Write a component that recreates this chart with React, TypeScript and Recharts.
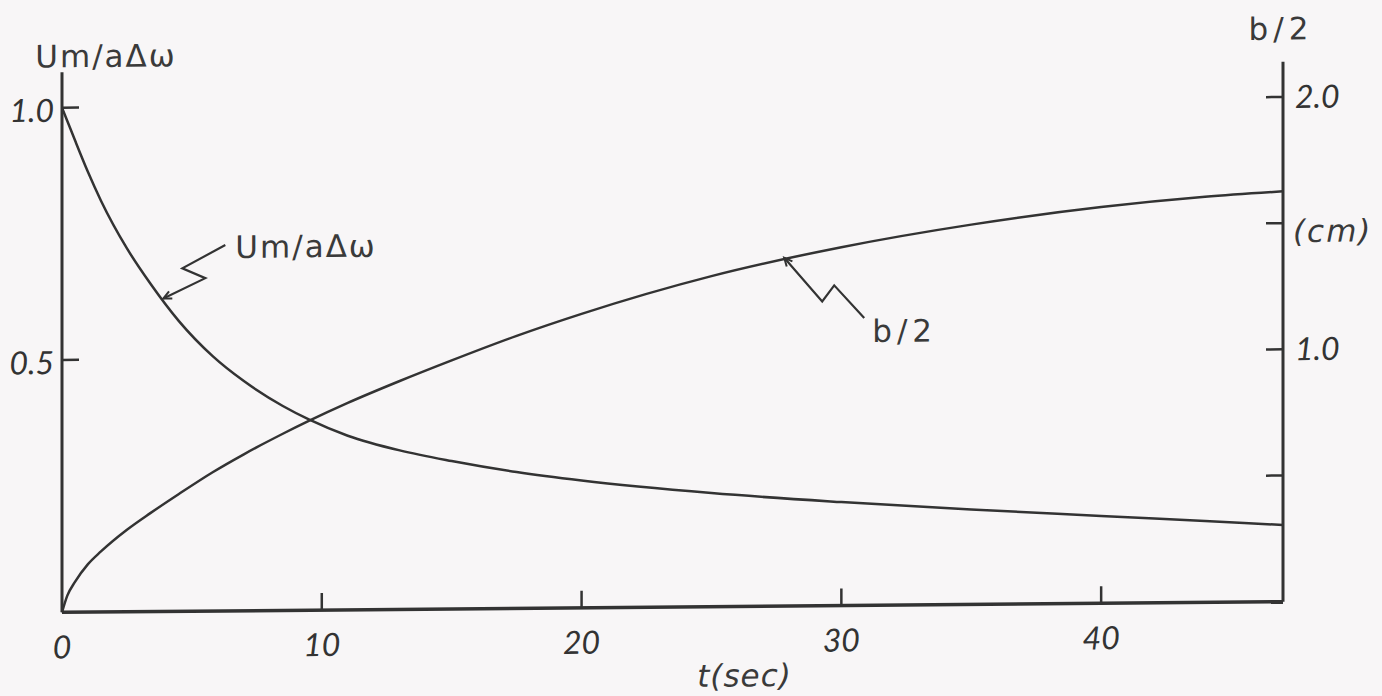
import React from 'react';
import { LineChart, Line, XAxis, YAxis, ReferenceDot } from 'recharts';

// time (s)
const tValues = [0, 0.2, 0.5, 1, 1.5, 2.5, 3.4, 4.5, 5.8, 7, 8.5, 9.5, 11, 13, 15, 17.5, 20, 25, 30, 35, 40, 44, 47];
// Um / aΔω (left axis)
const umValues = [1.0, 0.974, 0.935, 0.872, 0.815, 0.72, 0.65, 0.575, 0.505, 0.455, 0.405, 0.378, 0.345, 0.315, 0.293, 0.27, 0.252, 0.225, 0.205, 0.188, 0.173, 0.161, 0.152];
// b/2 in cm (right axis)
const bValues = [0, 0.065, 0.12, 0.19, 0.24, 0.325, 0.39, 0.465, 0.55, 0.62, 0.7, 0.75, 0.82, 0.905, 0.985, 1.08, 1.165, 1.31, 1.42, 1.505, 1.57, 1.607, 1.626];

const xTicks = [0, 10, 20, 30, 40];
const umTicks = [0.5, 1.0];
const bTicks = [0.5, 1.0, 1.5, 2.0];
const bTickLabels: Record<string, string> = { '0.5': '', '1': '1.0', '1.5': '(cm)', '2': '2.0' };

// arrow anchors for the curve captions
const umCaption = { t: 3.9, v: 0.62, text: 'Um/aΔω' };
const bCaption = { t: 27.8, v: 1.38, text: 'b/2' };

const data = tValues.map((t, i) => ({ t, um: umValues[i], b: bValues[i] }));

const INK = '#333333';
const BG = '#f8f6f7';

// numerals: narrow slanted lettering
const numFont = {
  fontFamily: 'Lato, "DejaVu Sans", sans-serif',
  fontStyle: 'italic' as const,
  fontWeight: 400,
  fontSize: 32,
  fill: INK,
};
// words: wide monoline lettering
const wordFont = {
  fontFamily: '"DejaVu Sans", sans-serif',
  fontStyle: 'normal' as const,
  fontWeight: 400,
  fontSize: 31,
  letterSpacing: 2,
  fill: '#3a3a3a',
};
const slantWordFont = { ...wordFont, fontStyle: 'oblique' as const };

const TICK_LEN = 17;

const LeftTick = (p: any) => {
  const { x, y, payload } = p;
  return (
    <g>
      <line x1={x} y1={y} x2={x + TICK_LEN} y2={y} stroke={INK} strokeWidth={2.5} />
      <text x={x - 8} y={y + 14} textAnchor="end" {...numFont}>
        {Number(payload.value).toFixed(1)}
      </text>
    </g>
  );
};

const RightTick = (p: any) => {
  const { x, y, payload } = p;
  const label = bTickLabels[String(payload.value)] ?? '';
  const isUnit = label === '(cm)';
  return (
    <g>
      <line x1={x - TICK_LEN} y1={y} x2={x} y2={y} stroke={INK} strokeWidth={2.5} />
      <text
        x={x + (isUnit ? 10 : 12)}
        y={isUnit ? y + 19 : y + 11}
        textAnchor="start"
        {...(isUnit ? slantWordFont : numFont)}
      >
        {label}
      </text>
    </g>
  );
};

const BottomTick = (p: any) => {
  const { x, y, payload } = p;
  return (
    <g>
      {payload.value !== 0 && (
        <line x1={x} y1={y} x2={x} y2={y - TICK_LEN} stroke={INK} strokeWidth={2.5} />
      )}
      <text x={x} y={y + 46} textAnchor="middle" {...numFont}>
        {payload.value}
      </text>
    </g>
  );
};

const UmCaptionShape = (p: any) => {
  const { cx, cy } = p;
  return (
    <g>
      <polyline
        points={`${cx + 62},${cy - 53} ${cx + 19},${cy - 30} ${cx + 42},${cy - 20} ${cx},${cy}`}
        fill="none"
        stroke={INK}
        strokeWidth={2.2}
      />
      <polyline
        points={`${cx + 9},${cy} ${cx},${cy} ${cx + 5.7},${cy - 7}`}
        fill="none"
        stroke={INK}
        strokeWidth={2}
      />
      <text x={cx + 72} y={cy - 40} textAnchor="start" {...wordFont}>
        {umCaption.text}
      </text>
    </g>
  );
};

const BCaptionShape = (p: any) => {
  const { cx, cy } = p;
  return (
    <g>
      <polyline
        points={`${cx + 80},${cy + 61} ${cx + 50},${cy + 28} ${cx + 38},${cy + 44} ${cx},${cy}`}
        fill="none"
        stroke={INK}
        strokeWidth={2.2}
      />
      <polyline
        points={`${cx + 2.5},${cy + 8.7} ${cx},${cy} ${cx + 8.2},${cy + 3.7}`}
        fill="none"
        stroke={INK}
        strokeWidth={2}
      />
      <text x={cx + 88} y={cy + 85} textAnchor="start" {...wordFont} letterSpacing={5}>
        {bCaption.text}
      </text>
    </g>
  );
};

export default function App() {
  return (
    <div style={{ position: 'absolute', left: 0, top: 0, width: 1382, height: 696, background: BG, overflow: 'hidden' }}>
      <div
        style={{
          position: 'absolute',
          left: 0,
          top: 0,
          width: 1382,
          height: 696,
          transform: 'skewY(-0.5deg)',
          transformOrigin: '672px 607px',
        }}
      >
        <LineChart
          width={1382}
          height={696}
          data={data}
          margin={{ top: 67, right: 49, bottom: 0, left: 12 }}
        >
          <XAxis
            dataKey="t"
            type="number"
            domain={[0, 47]}
            ticks={xTicks}
            height={89}
            tickSize={0}
            tickMargin={0}
            tick={BottomTick}
            axisLine={{ stroke: INK, strokeWidth: 3.5 }}
            tickLine={false}
            label={{
              content: (lp: any) => {
                const vb = lp.viewBox;
                return (
                  <text x={vb.x + vb.width / 2 + 72} y={vb.y + 80} textAnchor="middle" {...slantWordFont} letterSpacing={1}>
                    t(sec)
                  </text>
                );
              },
            }}
          />
          <YAxis
            yAxisId="um"
            orientation="left"
            type="number"
            domain={[0, 1.07]}
            ticks={umTicks}
            width={50}
            tickSize={0}
            tickMargin={0}
            tick={LeftTick}
            axisLine={{ stroke: INK, strokeWidth: 3 }}
            tickLine={false}
            label={{
              content: (lp: any) => {
                const vb = lp.viewBox;
                return (
                  <text x={vb.x + vb.width + 44} y={vb.y - 5} textAnchor="middle" {...wordFont}>
                    Um/aΔω
                  </text>
                );
              },
            }}
          />
          <YAxis
            yAxisId="b"
            orientation="right"
            type="number"
            domain={[0, 2.14]}
            ticks={bTicks}
            width={50}
            tickSize={0}
            tickMargin={0}
            tick={RightTick}
            axisLine={{ stroke: INK, strokeWidth: 3 }}
            tickLine={false}
            label={{
              content: (lp: any) => {
                const vb = lp.viewBox;
                return (
                  <text x={vb.x - 2} y={vb.y - 22} textAnchor="middle" {...wordFont} letterSpacing={5}>
                    b/2
                  </text>
                );
              },
            }}
          />
          <Line
            yAxisId="um"
            dataKey="um"
            type="monotone"
            stroke={INK}
            strokeWidth={2.5}
            dot={false}
            isAnimationActive={false}
          />
          <Line
            yAxisId="b"
            dataKey="b"
            type="monotone"
            stroke={INK}
            strokeWidth={2.5}
            dot={false}
            isAnimationActive={false}
          />
          <ReferenceDot yAxisId="um" x={umCaption.t} y={umCaption.v} r={0} shape={UmCaptionShape} />
          <ReferenceDot yAxisId="b" x={bCaption.t} y={bCaption.v} r={0} shape={BCaptionShape} />
        </LineChart>
      </div>
    </div>
  );
}
